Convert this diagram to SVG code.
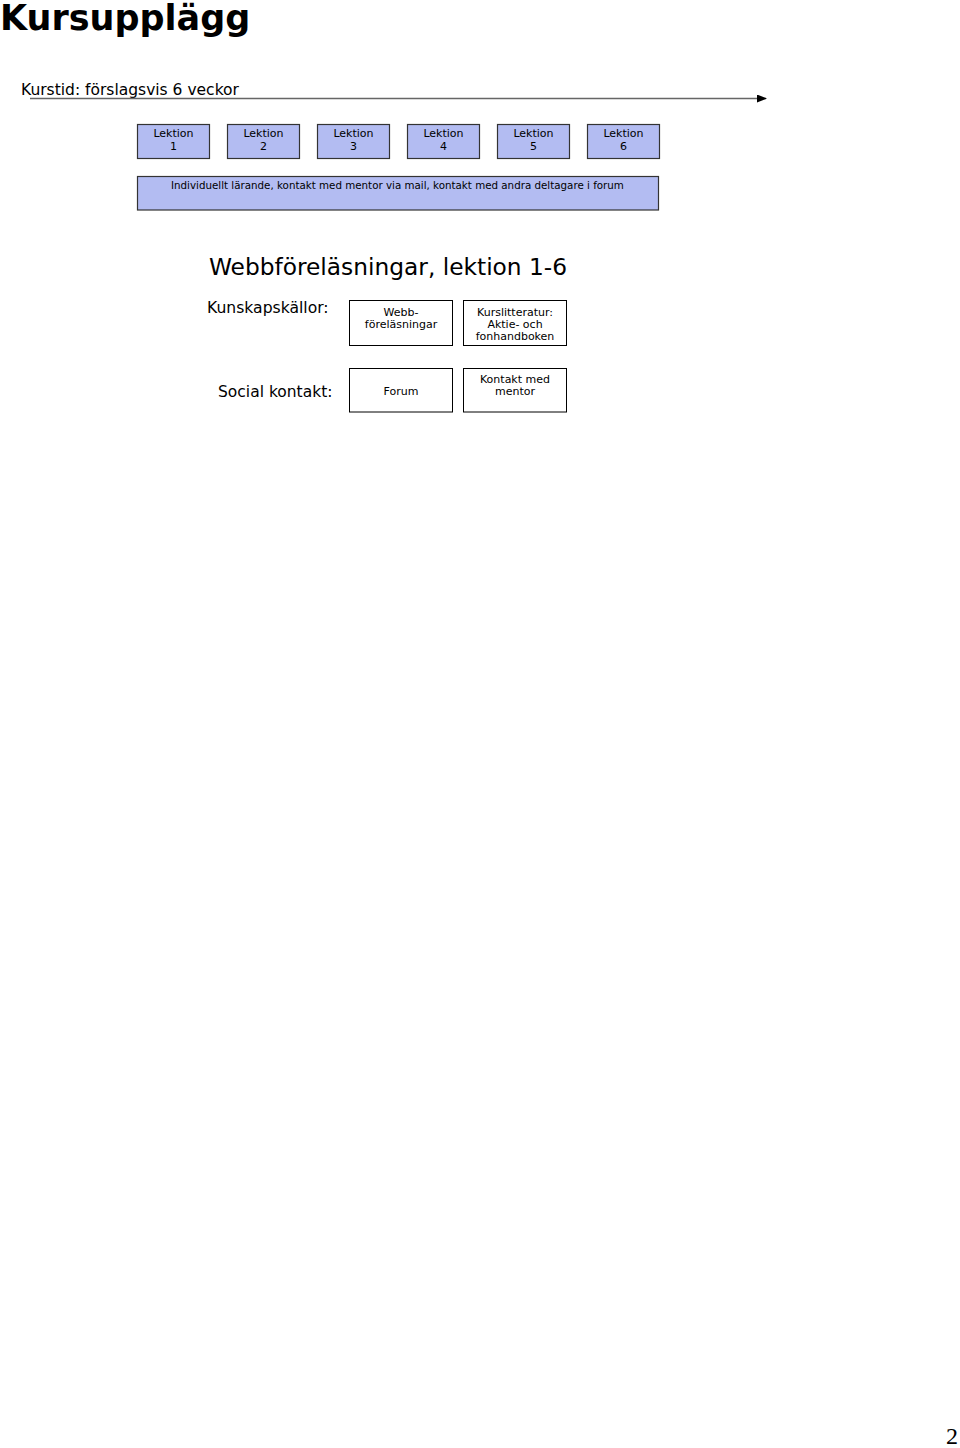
<svg xmlns="http://www.w3.org/2000/svg" width="960" height="1448" viewBox="0 0 960 1448">
<style>
.t{font-family:"DejaVu Sans",Verdana,sans-serif;fill:#000}
.lek{fill:#b3bcf2;stroke:#333;stroke-width:1.2}
.box{fill:#fff;stroke:#000;stroke-width:1}
.s{font-size:11px;text-anchor:middle}
</style>
<defs>
<marker id="ah" markerWidth="10" markerHeight="8" refX="9" refY="4" orient="auto" markerUnits="userSpaceOnUse">
<path d="M0,0 L10,4 L0,8 Z" fill="#000"/>
</marker>
</defs>
<rect width="960" height="1448" fill="#fff"/>
<text class="t" x="0" y="30" font-size="35" font-weight="bold">Kursupplägg</text>
<text class="t" x="21" y="95" font-size="15.5">Kurstid: förslagsvis 6 veckor</text>
<g id="connectors">
<line x1="30" y1="98.5" x2="766" y2="98.5" stroke="#666" stroke-width="1.5" marker-end="url(#ah)"/>
</g>
<g id="lektion1"><rect class="lek" x="137.5" y="124.5" width="72" height="34"/><text class="t s" x="173.5" y="137">Lektion</text><text class="t s" x="173.5" y="150">1</text></g>
<g id="lektion2"><rect class="lek" x="227.5" y="124.5" width="72" height="34"/><text class="t s" x="263.5" y="137">Lektion</text><text class="t s" x="263.5" y="150">2</text></g>
<g id="lektion3"><rect class="lek" x="317.5" y="124.5" width="72" height="34"/><text class="t s" x="353.5" y="137">Lektion</text><text class="t s" x="353.5" y="150">3</text></g>
<g id="lektion4"><rect class="lek" x="407.5" y="124.5" width="72" height="34"/><text class="t s" x="443.5" y="137">Lektion</text><text class="t s" x="443.5" y="150">4</text></g>
<g id="lektion5"><rect class="lek" x="497.5" y="124.5" width="72" height="34"/><text class="t s" x="533.5" y="137">Lektion</text><text class="t s" x="533.5" y="150">5</text></g>
<g id="lektion6"><rect class="lek" x="587.5" y="124.5" width="72" height="34"/><text class="t s" x="623.5" y="137">Lektion</text><text class="t s" x="623.5" y="150">6</text></g>
<g id="individuellt"><rect class="lek" x="137.5" y="176.5" width="521" height="33.5"/><text class="t" x="171" y="189" font-size="10.3">Individuellt lärande, kontakt med mentor via mail, kontakt med andra deltagare i forum</text></g>
<text class="t" x="388" y="275" font-size="23.3" text-anchor="middle">Webbföreläsningar, lektion 1-6</text>
<text class="t" x="207" y="313" font-size="15.6">Kunskapskällor:</text>
<text class="t" x="218" y="397" font-size="15.5">Social kontakt:</text>
<g id="webb"><rect class="box" x="349.5" y="300.5" width="103" height="45"/><text class="t s" x="401" y="316">Webb-</text><text class="t s" x="401" y="328">föreläsningar</text></g>
<g id="kurslitteratur"><rect class="box" x="463.5" y="300.5" width="103" height="45"/><text class="t s" x="515" y="316">Kurslitteratur:</text><text class="t s" x="515" y="328">Aktie- och</text><text class="t s" x="515" y="340">fonhandboken</text></g>
<g id="forum"><rect class="box" x="349.5" y="368.5" width="103" height="43.5"/><text class="t s" x="401" y="395">Forum</text></g>
<g id="mentor"><rect class="box" x="463.5" y="368.5" width="103" height="43.5"/><text class="t s" x="515" y="383">Kontakt med</text><text class="t s" x="515" y="395">mentor</text></g>
<text x="958" y="1444" font-family="Liberation Serif,serif" font-size="24" text-anchor="end">2</text>
</svg>
